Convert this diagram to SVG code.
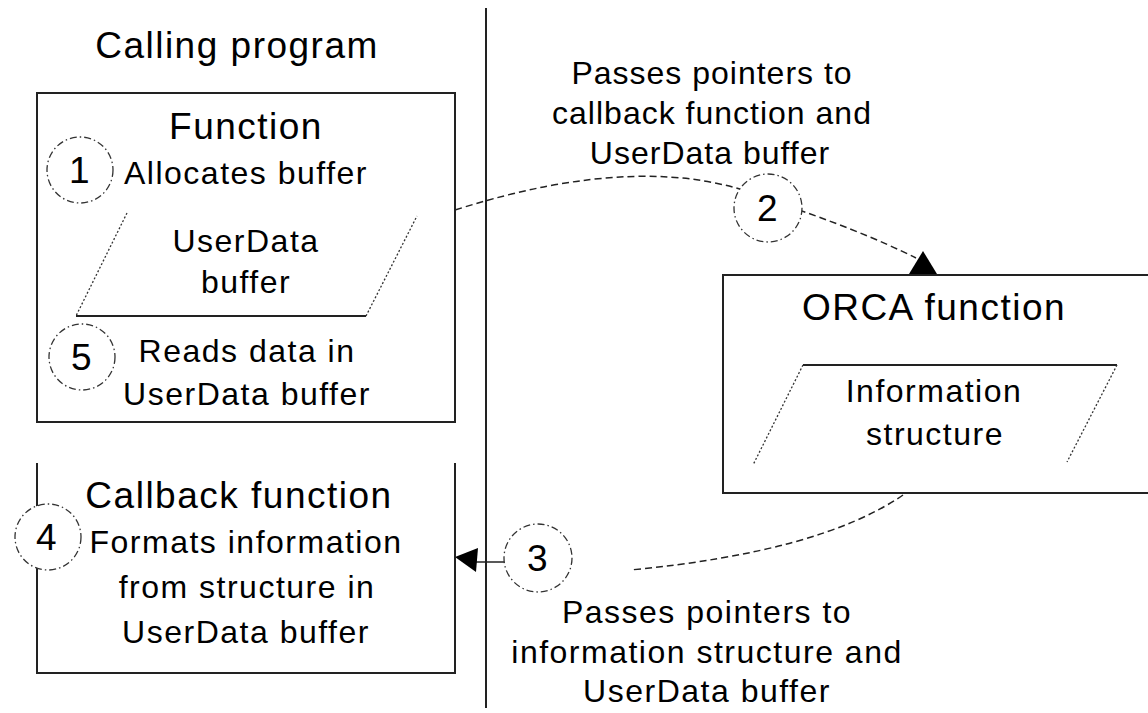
<svg xmlns="http://www.w3.org/2000/svg" width="1148" height="713" viewBox="0 0 1148 713">
<style>
text{font-family:"Liberation Sans",Arial,sans-serif;fill:#000;text-anchor:middle}
.big{font-size:37px;letter-spacing:1.5px}
.sm{font-size:32px;letter-spacing:1.5px}
.lab{font-size:32px;letter-spacing:1px}
.box{fill:none;stroke:#222;stroke-width:2}
.dot{fill:none;stroke:#333;stroke-width:1.3;stroke-dasharray:2 2}
.circ{fill:#fff;stroke:#333;stroke-width:1.3;stroke-dasharray:7 3 1.5 3}
.conn{fill:none;stroke:#222;stroke-width:1.5;stroke-dasharray:7 4}
.head{fill:#000}
</style>
<rect width="1148" height="713" fill="#fff"/>
<line x1="486" y1="8" x2="486" y2="708" stroke="#222" stroke-width="2"/>
<text class="big" x="237" y="58">Calling program</text>

<g id="connectors">
<path class="conn" d="M455,210 Q650,148 770,200 Q860,230 916,258"/>
<polygon class="head" points="923,251 909,274 937,274"/>
<path class="conn" d="M903,495 Q820,552 630,570"/>
<line x1="476" y1="562" x2="506" y2="562" stroke="#222" stroke-width="1.5"/>
<polygon class="head" points="455,557 478,548 476,572"/>
</g>

<g id="function">
<rect class="box" x="37" y="93" width="418" height="329"/>
<text class="big" x="246" y="139">Function</text>
<text class="sm" x="246" y="184">Allocates buffer</text>
<path class="dot" d="M127,213 L76,316"/>
<line x1="76" y1="316" x2="366" y2="316" stroke="#222" stroke-width="2"/>
<path class="dot" d="M366,316 L417,216"/>
<text class="sm" x="246" y="252">UserData</text>
<text class="sm" x="246" y="293">buffer</text>
<text class="sm" x="247" y="362">Reads data in</text>
<text class="sm" x="247" y="405">UserData buffer</text>
</g>

<g id="step1"><circle class="circ" cx="80" cy="170" r="33"/><text class="big" x="80" y="183">1</text></g>
<g id="step5"><circle class="circ" cx="82" cy="357" r="33"/><text class="big" x="82" y="370">5</text></g>

<g id="orca">
<path class="box" d="M1150,275 H723 V493 H1150"/>
<text class="big" x="934" y="320">ORCA function</text>
<line x1="803" y1="365" x2="1117" y2="365" stroke="#222" stroke-width="2"/>
<path class="dot" d="M803,365 L753,465"/>
<path class="dot" d="M1117,365 L1067,462"/>
<text class="sm" x="934" y="402">Information</text>
<text class="sm" x="935" y="445">structure</text>
</g>

<g id="callback">
<path class="box" d="M37,463 V673 H455 V463"/>
<text class="big" x="239" y="508">Callback function</text>
<text class="sm" x="246" y="553">Formats information</text>
<text class="sm" x="247" y="598">from structure in</text>
<text class="sm" x="246" y="643">UserData buffer</text>
</g>
<g id="step4"><circle class="circ" cx="48" cy="537" r="33"/><text class="big" x="47" y="550">4</text></g>

<g id="label2">
<text class="lab" x="712" y="84">Passes pointers to</text>
<text class="lab" x="712" y="124">callback function and</text>
<text class="lab" x="710" y="164">UserData buffer</text>
</g>
<g id="step2"><circle class="circ" cx="768" cy="208" r="34"/><text class="big" x="768" y="221">2</text></g>
<g id="step3"><circle class="circ" cx="538" cy="558" r="34"/><text class="big" x="538" y="571">3</text></g>
<g id="label3">
<text class="sm" x="707" y="623">Passes pointers to</text>
<text class="sm" x="707" y="663">information structure and</text>
<text class="sm" x="707" y="702">UserData buffer</text>
</g>
</svg>
